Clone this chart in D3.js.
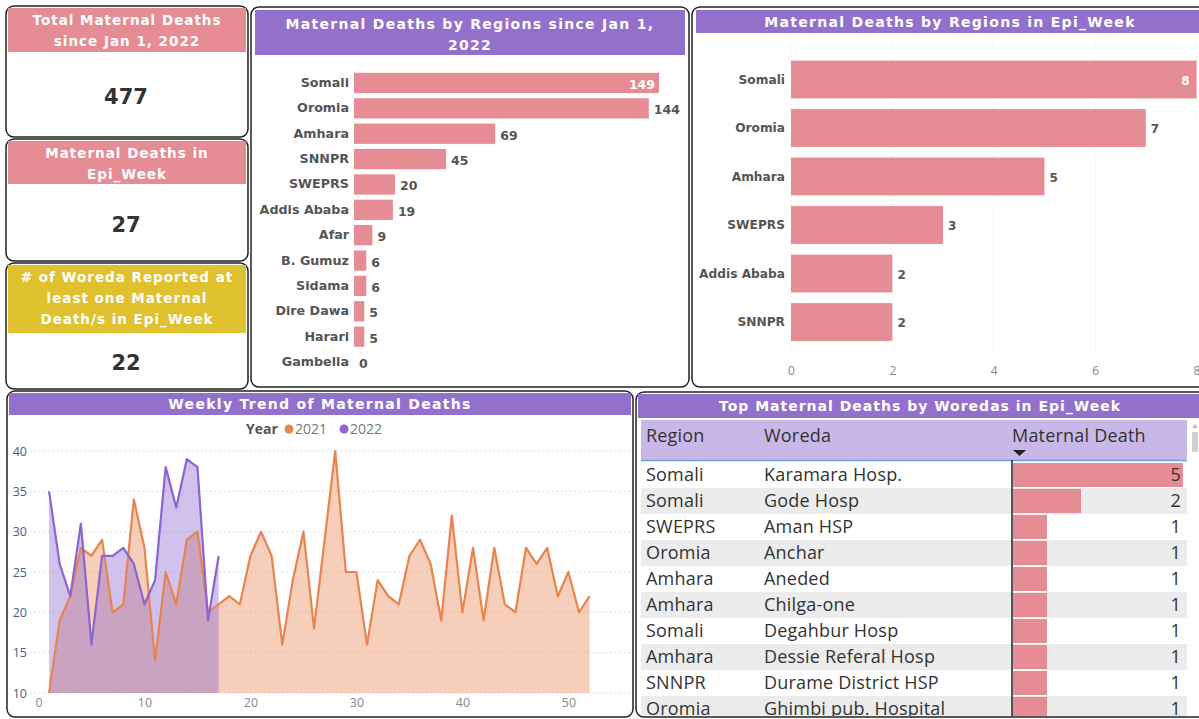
<!DOCTYPE html>
<html>
<head>
<meta charset="utf-8">
<script src="https://cdn.jsdelivr.net/npm/d3@7"></script>
<style>
  body { margin: 0; background: #fff; }
  svg { display: block; }
  .ttl { font-family: "DejaVu Sans", sans-serif; font-weight: 700; fill: #fff; letter-spacing: 1.3px; }
  .lbl { font-family: "DejaVu Sans", sans-serif; font-weight: 700; fill: #555; }
  .tbl { font-family: "Open Sans", "Noto Sans", sans-serif; fill: #333; letter-spacing: 0.2px; }
</style>
</head>
<body>
<svg id="chart" width="1199" height="719"></svg>
<script>
// KPI cards
var kpiTitles = [
  ["Total Maternal Deaths", "since Jan 1, 2022"],
  ["Maternal Deaths in", "Epi_Week"],
  ["# of Woreda Reported at", "least one Maternal", "Death/s in Epi_Week"]
];
var kpiValues = [477, 27, 22];

// bars since Jan 1
var regionsAll = ["Somali", "Oromia", "Amhara", "SNNPR", "SWEPRS", "Addis Ababa", "Afar",
  "B. Gumuz", "Sidama", "Dire Dawa", "Harari", "Gambella"];
var deathsAll = [149, 144, 69, 45, 20, 19, 9, 6, 6, 5, 5, 0];

// bars in epi week
var regionsWeek = ["Somali", "Oromia", "Amhara", "SWEPRS", "Addis Ababa", "SNNPR"];
var deathsWeek = [8, 7, 5, 3, 2, 2];
var weekTicks = [0, 2, 4, 6, 8];

// weekly trend
var years = ["2021", "2022"];
var deaths2021 = [10, 19, 22, 28, 27, 29, 20, 21, 34, 28, 14, 25, 21, 29, 30, 20, 21, 22, 21, 27,
  30, 27, 16, 24, 30, 18, 29, 40, 25, 25, 16, 24, 22, 21, 27, 29, 26, 19, 32, 20,
  28, 19, 28, 21, 20, 28, 26, 28, 22, 25, 20, 22];
var deaths2022 = [35, 26, 22, 31, 16, 27, 27, 28, 26, 21, 24, 38, 33, 39, 38, 19, 27];
var yTicks = [10, 15, 20, 25, 30, 35, 40];
var xTicks = [0, 10, 20, 30, 40, 50];

// table
var tblRegion = ["Somali", "Somali", "SWEPRS", "Oromia", "Amhara", "Amhara", "Somali", "Amhara", "SNNPR", "Oromia"];
var tblWoreda = ["Karamara Hosp.", "Gode Hosp", "Aman HSP", "Anchar", "Aneded", "Chilga-one",
  "Degahbur Hosp", "Dessie Referal Hosp", "Durame District HSP", "Ghimbi pub. Hospital"];
var tblDeaths = [5, 2, 1, 1, 1, 1, 1, 1, 1, 1];

var pink = "#e68c94", purple = "#9370cc", yellow = "#e0c12e";
var orange = "#e8854f", violet = "#8c65d3";

var svg = d3.select("#chart");

function panel(x, y, w, h) {
  svg.append("rect").attr("x", x).attr("y", y).attr("width", w).attr("height", h)
    .attr("rx", 8).attr("fill", "#fff").attr("stroke", "#222").attr("stroke-width", 1.5);
}

//KPI cards
var cards = [[6, 6, 242, 131, 44, pink], [6, 139, 242, 122, 43, pink], [6, 263, 242, 126, 68, yellow]];
var valueY = [104, 232, 370];
cards.forEach(function(c, i) {
  panel(c[0], c[1], c[2], c[3]);
  svg.append("rect").attr("x", c[0] + 2).attr("y", c[1] + 2).attr("width", c[2] - 4).attr("height", c[4])
    .attr("fill", c[5]);
  kpiTitles[i].forEach(function(t, j) {
    svg.append("text").attr("class", "ttl").attr("x", c[0] + c[2] / 2).attr("y", c[1] + 19 + j * 21)
      .attr("text-anchor", "middle").attr("font-size", "13.5px").style("letter-spacing", "1px").text(t);
  });
  svg.append("text").attr("x", c[0] + c[2] / 2 - 1).attr("y", valueY[i]).attr("text-anchor", "middle")
    .attr("font-family", "DejaVu Sans, sans-serif").attr("font-weight", 700).attr("font-size", "21px")
    .attr("fill", "#333").text(kpiValues[i]);
});

//since Jan 1 bars
panel(251, 7, 438, 380);
svg.append("rect").attr("x", 255).attr("y", 10).attr("width", 430).attr("height", 45).attr("fill", purple);
svg.append("text").attr("class", "ttl").attr("x", 470).attr("y", 29).attr("text-anchor", "middle")
  .attr("font-size", "14px").text("Maternal Deaths by Regions since Jan 1,");
svg.append("text").attr("class", "ttl").attr("x", 470).attr("y", 50).attr("text-anchor", "middle")
  .attr("font-size", "14px").text("2022");

var xA = d3.scaleLinear().domain([0, 149]).range([354, 659]);
var yA = d3.scaleBand().domain(regionsAll).range([70.3, 374.7]).paddingInner(0.2).paddingOuter(0.1);

svg.selectAll(".barA").data(deathsAll).enter().append("rect")
  .attr("x", xA(0)).attr("y", function(d, i) { return yA(regionsAll[i]); })
  .attr("width", function(d) { return xA(d) - xA(0); }).attr("height", yA.bandwidth())
  .attr("fill", pink);
svg.selectAll(".catA").data(regionsAll).enter().append("text").attr("class", "lbl")
  .attr("x", 349).attr("y", function(d) { return yA(d) + yA.bandwidth() / 2 + 4; })
  .attr("text-anchor", "end").attr("font-size", "12.7px").text(function(d) { return d; });
svg.selectAll(".valA").data(deathsAll).enter().append("text").attr("class", "lbl")
  .attr("x", function(d, i) { return i == 0 ? xA(d) - 4 : xA(d) + 5; })
  .attr("y", function(d, i) { return yA(regionsAll[i]) + yA.bandwidth() / 2 + 6; })
  .attr("text-anchor", function(d, i) { return i == 0 ? "end" : "start"; })
  .attr("font-size", "12.5px")
  .style("fill", function(d, i) { return i == 0 ? "#fff" : "#555"; })
  .text(function(d) { return d; });

//epi week bars
panel(692, 7, 515, 380);
svg.append("rect").attr("x", 696).attr("y", 10).attr("width", 510).attr("height", 23).attr("fill", purple);
svg.append("text").attr("class", "ttl").attr("x", 950).attr("y", 27).attr("text-anchor", "middle")
  .attr("font-size", "14px").text("Maternal Deaths by Regions in Epi_Week");

var xW = d3.scaleLinear().domain([0, 8]).range([791, 1196.5]);
var yW = d3.scaleBand().domain(regionsWeek).range([55.25, 346.25]).paddingInner(0.22).paddingOuter(0.11);

svg.selectAll(".gridW").data(weekTicks).enter().append("line")
  .attr("x1", function(d) { return xW(d); }).attr("x2", function(d) { return xW(d); })
  .attr("y1", 40).attr("y2", 352).attr("stroke", "#e4e4e4").attr("stroke-dasharray", "1,3");
svg.selectAll(".barW").data(deathsWeek).enter().append("rect")
  .attr("x", xW(0)).attr("y", function(d, i) { return yW(regionsWeek[i]); })
  .attr("width", function(d) { return xW(d) - xW(0); }).attr("height", yW.bandwidth())
  .attr("fill", pink);
svg.selectAll(".catW").data(regionsWeek).enter().append("text").attr("class", "lbl")
  .attr("x", 785).attr("y", function(d) { return yW(d) + yW.bandwidth() / 2 + 4; })
  .attr("text-anchor", "end").attr("font-size", "12.2px").text(function(d) { return d; });
svg.selectAll(".valW").data(deathsWeek).enter().append("text").attr("class", "lbl")
  .attr("x", function(d, i) { return i == 0 ? xW(d) - 7 : xW(d) + 5; })
  .attr("y", function(d, i) { return yW(regionsWeek[i]) + yW.bandwidth() / 2 + 5; })
  .attr("text-anchor", function(d, i) { return i == 0 ? "end" : "start"; })
  .attr("font-size", "12px")
  .style("fill", function(d, i) { return i == 0 ? "#fff" : "#555"; })
  .text(function(d) { return d; });
svg.append("g").attr("transform", "translate(0,360)")
  .call(d3.axisBottom(xW).tickValues(weekTicks).tickSize(0).tickPadding(6))
  .call(function(g) {
    g.select(".domain").remove();
    g.selectAll("text").attr("fill", "#888").attr("font-size", "12px")
      .attr("font-family", "Open Sans, sans-serif");
  });

//weekly trend
panel(7, 391, 626, 326);
svg.append("rect").attr("x", 9).attr("y", 393).attr("width", 622).attr("height", 22).attr("fill", purple);
svg.append("text").attr("class", "ttl").attr("x", 320).attr("y", 409).attr("text-anchor", "middle")
  .attr("font-size", "14px").text("Weekly Trend of Maternal Deaths");

var x = d3.scaleLinear().domain([-0.8, 56]).range([30, 632]);
var y = d3.scaleLinear().domain([10, 40]).range([693, 451]);

svg.selectAll(".gx").data(xTicks.slice(1)).enter().append("line")
  .attr("x1", function(d) { return x(d); }).attr("x2", function(d) { return x(d); })
  .attr("y1", 446).attr("y2", 693).attr("stroke", "#eeeeee").attr("stroke-dasharray", "1,3");
svg.selectAll(".gy").data(yTicks).enter().append("line")
  .attr("x1", 30).attr("x2", 630)
  .attr("y1", function(d) { return y(d); }).attr("y2", function(d) { return y(d); })
  .attr("stroke", "#d6d6d6").attr("stroke-dasharray", "1.5,3");

var area = d3.area().x(function(d, i) { return x(i + 1); }).y0(y(10)).y1(function(d) { return y(d); });
var line = d3.line().x(function(d, i) { return x(i + 1); }).y(function(d) { return y(d); });

svg.append("path").datum(deaths2021).attr("d", area).attr("fill", orange).attr("fill-opacity", 0.4);
svg.append("path").datum(deaths2022).attr("d", area).attr("fill", violet).attr("fill-opacity", 0.4);
svg.append("path").datum(deaths2021).attr("d", line).attr("fill", "none").attr("stroke", orange)
  .attr("stroke-width", 2.2).attr("stroke-linejoin", "round");
svg.append("path").datum(deaths2022).attr("d", line).attr("fill", "none").attr("stroke", violet)
  .attr("stroke-width", 2.2).attr("stroke-linejoin", "round");

svg.append("g").attr("transform", "translate(27,0)")
  .call(d3.axisLeft(y).tickValues(yTicks).tickSize(0).tickPadding(0))
  .call(function(g) {
    g.select(".domain").remove();
    g.selectAll("text").attr("fill", "#4d5b85").attr("font-size", "12.5px")
      .attr("font-family", "Open Sans, sans-serif");
  });
svg.append("g").attr("transform", "translate(0,696)")
  .call(d3.axisBottom(x).tickValues(xTicks).tickSize(0).tickPadding(2))
  .call(function(g) {
    g.select(".domain").remove();
    g.selectAll("text").attr("fill", "#8a8a8a").attr("font-size", "12.5px")
      .attr("font-family", "Open Sans, sans-serif");
  });

//legend
svg.append("text").attr("x", 246).attr("y", 434).attr("font-size", "14px")
  .attr("font-family", "Open Sans, sans-serif").attr("font-weight", 700).attr("fill", "#555").text("Year");
var legX = [289, 344];
years.forEach(function(yr, i) {
  svg.append("circle").attr("cx", legX[i]).attr("cy", 429).attr("r", 4.5).attr("fill", i == 0 ? orange : violet);
  svg.append("text").attr("x", legX[i] + 6).attr("y", 434).attr("font-size", "14px")
    .attr("font-family", "Open Sans, sans-serif").attr("fill", "#777").text(yr);
});

//table
panel(636, 392, 571, 325);
svg.append("rect").attr("x", 638).attr("y", 394).attr("width", 566).attr("height", 24).attr("fill", purple);
svg.append("text").attr("class", "ttl").attr("x", 920).attr("y", 411).attr("text-anchor", "middle")
  .attr("font-size", "14px").style("letter-spacing", "1px").text("Top Maternal Deaths by Woredas in Epi_Week");

svg.append("defs").append("clipPath").attr("id", "tclip").append("rect")
  .attr("x", 636).attr("y", 418).attr("width", 560).attr("height", 298);
var tg = svg.append("g").attr("clip-path", "url(#tclip)");

tg.append("rect").attr("x", 641).attr("y", 420).attr("width", 546).attr("height", 40).attr("fill", "#c8b8e8");
tg.append("line").attr("x1", 641).attr("x2", 1187).attr("y1", 460.5).attr("y2", 460.5)
  .attr("stroke", "#6a9ee6").attr("stroke-width", 1.5);
var colX = [646, 764, 1012];
["Region", "Woreda", "Maternal Death"].forEach(function(h, i) {
  tg.append("text").attr("class", "tbl").attr("x", colX[i]).attr("y", 442).attr("font-size", "18px").text(h);
});
tg.append("path").attr("d", "M1013,450 L1026,450 L1019.5,456 Z").attr("fill", "#222");

var rowH = 26;
var xT = d3.scaleLinear().domain([0, 5]).range([1013, 1183]);
tblDeaths.forEach(function(v, i) {
  var top = 462 + i * rowH;
  tg.append("rect").attr("x", 641).attr("y", top).attr("width", 546).attr("height", rowH)
    .attr("fill", i % 2 == 0 ? "#fff" : "#ececec");
  tg.append("rect").attr("x", xT(0)).attr("y", top + 1).attr("width", xT(v) - xT(0)).attr("height", rowH - 2)
    .attr("fill", pink);
  tg.append("text").attr("class", "tbl").attr("x", 646).attr("y", top + 19).attr("font-size", "18px").text(tblRegion[i]);
  tg.append("text").attr("class", "tbl").attr("x", 764).attr("y", top + 19).attr("font-size", "18px").text(tblWoreda[i]);
  tg.append("text").attr("class", "tbl").attr("x", 1181).attr("y", top + 19).attr("font-size", "18px")
    .attr("text-anchor", "end").text(v);
});
tg.append("line").attr("x1", 1012).attr("x2", 1012).attr("y1", 460).attr("y2", 716)
  .attr("stroke", "#222").attr("stroke-width", 1.5);
svg.append("rect").attr("x", 1192).attr("y", 432).attr("width", 6).attr("height", 20).attr("fill", "#d0d0d0");
svg.append("path").attr("d", "M1192,428 L1198,428 L1195,424 Z").attr("fill", "#bbb");
</script>
</body>
</html>
